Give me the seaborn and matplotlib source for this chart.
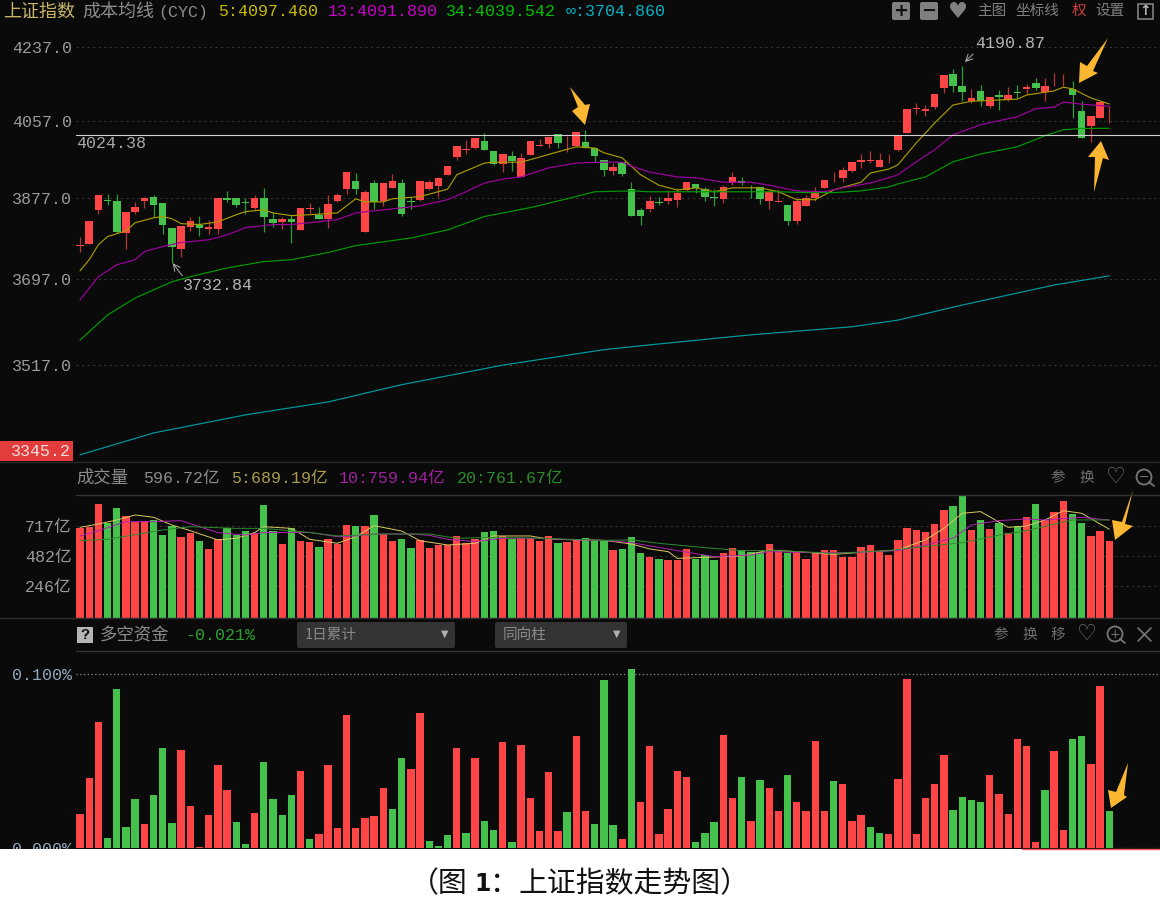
import matplotlib
matplotlib.use("Agg")
import matplotlib.pyplot as plt
from matplotlib.patches import Polygon, Rectangle, FancyBboxPatch, Circle
from matplotlib.ticker import NullLocator, FixedLocator, FixedFormatter
import numpy as np
import pandas as pd
import seaborn as sns

# ---------------- data ----------------
opens = [3771,3775,3851,3873,3871,3798,3846,3871,3879,3867,3810,3764,3813,3817,3808,3808,3878,3878,3869,3856,
         3878,3831,3824,3831,3806,3854,3840,3831,3871,3899,3917,3802,3911,3870,3901,3913,3870,3873,3898,3905,
         3931,3971,3988,3993,4010,3987,3956,3974,3925,3977,3997,4003,4026,3999,3997,4008,3992,3965,3940,3961,
         3898,3850,3852,3869,3870,3873,3896,3909,3898,3881,3875,3911,3917,3904,3904,3872,3868,3862,3825,3859,
         3878,3901,3918,3923,3940,3960,3963,3948,3967,3989,4028,4086,4081,4090,4135,4171,4141,4105,4129,4092,
         4118,4106,4127,4134,4147,4127,4153,4160,4134,4081,4045,4065,4078]
highs = [3790,3827,3884,3888,3887,3845,3868,3881,3885,3867,3810,3814,3835,3836,3828,3878,3894,3878,3878,3884,
         3901,3845,3834,3840,3855,3866,3857,3884,3889,3937,3934,3896,3920,3913,3932,3922,3879,3917,3919,3925,
         3951,3998,4012,4017,4028,3987,3978,3987,3981,4010,4014,4020,4026,4021,4031,4036,3992,3965,3959,3961,
         3914,3855,3883,3881,3896,3901,3914,3909,3904,3898,3907,3937,3925,3907,3904,3896,3898,3862,3881,3885,
         3904,3918,3938,3948,3960,3980,3986,3981,3978,4024,4085,4099,4095,4122,4167,4182,4190.87,4133,4143,4115,
         4131,4138,4143,4145,4161,4160,4172,4171,4154,4105,4068,4105,4092]
lows = [3758,3775,3842,3861,3799,3763,3841,3856,3835,3797,3732.84,3746,3804,3793,3796,3796,3869,3857,3842,3851,
        3802,3813,3808,3777,3806,3844,3831,3811,3868,3888,3888,3802,3853,3859,3901,3836,3853,3870,3896,3879,
        3931,3964,3980,3991,3989,3953,3938,3940,3925,3977,3997,3993,3993,3983,3997,3994,3961,3927,3931,3929,
        3836,3818,3847,3862,3865,3857,3893,3890,3871,3860,3866,3907,3907,3878,3865,3853,3868,3818,3819,3859,
        3872,3901,3914,3914,3938,3947,3959,3948,3957,3985,4028,4073,4069,4085,4123,4127,4104,4100,4092,4089,
        4083,4104,4111,4121,4132,4104,4141,4140,4065,4017,4006,4065,4051]
closes = [3773,3827,3884,3871,3802,3845,3858,3878,3861,3816,3768,3814,3827,3810,3812,3878,3873,3863,3866,3877,
          3834,3822,3830,3824,3855,3856,3831,3864,3884,3937,3898,3891,3869,3913,3917,3842,3869,3917,3915,3924,
          3951,3998,3991,4017,3989,3956,3978,3963,3970,4010,3999,4020,4005,4001,4031,3994,3974,3942,3948,3933,
          3836,3838,3871,3867,3878,3890,3914,3900,3879,3878,3904,3925,3911,3902,3876,3892,3870,3827,3872,3877,
          3891,3918,3920,3943,3960,3965,3965,3965,3968,4024,4085,4088,4085,4122,4167,4140,4127,4113,4104,4115,
          4115,4118,4124,4138,4135,4142,4154,4161,4120,4017,4068,4102,4079]

ma5_i = [0,1,2,3,5,6,8,9,10,11,13,15,17,18,20,21,23,25,28,29,30,31,33,34,37,40,41,44,45,48,50,52,54,56,57,59,61,63,65,67,69,71,74,76,78,80,82,85,86,88,89,91,93,95,97,102,103,106,107,108,110,112]
ma5_v = [3716,3740,3773,3791,3804,3822,3833,3836,3831,3820,3818,3824,3840,3847,3851,3844,3838,3840,3844,3860,3876,3869,3869,3876,3881,3898,3931,3958,3960,3960,3972,3984,3996,3993,3982,3970,3931,3907,3896,3901,3892,3901,3901,3892,3874,3874,3896,3914,3935,3944,3954,4005,4052,4095,4104,4109,4119,4129,4138,4134,4112,4097.46]
ma13_i = [0,2,4,6,7,9,11,14,16,18,21,23,25,28,30,33,37,40,42,44,46,48,51,54,57,59,60,62,65,67,70,73,75,78,81,83,86,88,89,91,93,95,98,102,104,106,107,109,112]
ma13_v = [3653,3703,3729,3740,3758,3769,3778,3784,3795,3811,3818,3818,3822,3829,3844,3851,3860,3874,3892,3912,3921,3926,3947,3958,3960,3960,3951,3937,3926,3924,3914,3914,3907,3894,3892,3901,3912,3924,3931,3961,3989,4024,4048,4067,4086,4090,4102,4097,4091.89]
ma34_i = [0,3,6,10,12,16,20,23,27,30,36,40,44,49,53,56,60,62,71,76,79,82,85,88,89,92,95,98,102,105,107,109,112]
ma34_v = [3568,3621,3657,3692,3703,3722,3736,3740,3756,3771,3788,3806,3836,3856,3876,3892,3894,3892,3892,3892,3890,3890,3894,3903,3910,3926,3961,3979,3996,4022,4036,4039,4039.54]
mainf_i = [0,8,18,27,35,46,57,62,73,84,89,96,106,112]
mainf_v = [3336,3379,3415,3441,3476,3516,3548,3558,3579,3596,3610,3642,3685,3704.86]

volume = [696,704,888,735,857,792,743,751,758,647,712,629,657,600,536,616,701,647,675,663,
          875,678,572,696,600,590,554,611,572,722,717,712,800,652,595,616,546,603,541,569,
          569,634,580,611,670,675,639,613,619,624,595,634,585,590,606,621,598,603,531,536,
          626,507,476,458,448,453,536,455,487,448,502,546,528,515,515,577,523,507,510,461,
          512,525,525,476,471,551,564,523,489,603,699,683,665,730,841,870,952,683,763,688,
          735,663,712,782,888,761,823,906,805,735,634,678,596.72]
volume_dir = list("RRRGGRRRGG" "GRRGRRGGGR" "GGRGRRGRRR" "GRGRRGGRRR" "RRRRGGRGRR" "RRGRRGGGRG"
                  "GGRGRRRGGG" "RRGGGRRGRR" "RRRRRRRRRR" "RRRRRGGRGR" "GRGRGRRRGG" "RRR")
vma5_i = [0,2,4,6,8,10,12,15,17,19,20,23,25,28,30,32,35,37,40,43,45,49,51,54,57,60,62,64,65,68,72,75,78,82,86,89,92,94,96,98,101,103,105,107,109,112]
vma5_v = [704,730,761,800,782,722,678,606,619,663,709,696,611,580,631,717,675,600,567,580,637,637,613,606,603,575,536,515,463,471,481,528,515,494,515,528,606,696,813,826,704,714,761,833,813,689.19]
vma10_i = [0,2,5,8,11,13,15,18,20,25,28,30,32,36,38,40,43,46,50,54,57,60,65,69,73,75,80,84,89,92,95,97,100,103,105,109,112]
vma10_v = [637,678,748,748,756,709,663,644,663,665,631,637,652,652,642,611,593,619,619,606,603,585,523,476,489,515,507,507,523,567,619,722,756,769,761,782,759.94]
vma20_i = [0,3,6,9,12,17,20,25,28,33,38,41,45,50,57,60,63,68,72,76,82,88,90,96,100,103,108,112]
vma20_v = [600,611,647,683,709,696,696,663,637,652,652,619,626,619,603,606,580,546,523,523,502,523,541,585,644,678,761,761.67]

funds = [.0194,.0401,.0727,.0058,.0916,.0119,.0280,.0136,.0305,.0572,.0146,.0562,.0244,.0008,.0188,.0476,.0332,.0150,.0023,.0202,
         .0497,.0284,.0192,.0305,.0442,.0054,.0081,.0476,.0113,.0762,.0113,.0171,.0184,.0346,.0227,.0520,.0453,.0776,.0038,.0013,
         .0075,.0572,.0088,.0515,.0157,.0102,.0607,.0035,.0593,.0290,.0098,.0436,.0098,.0205,.0641,.0215,.0136,.0968,.0132,.0050,
         .1029,.0263,.0589,.0081,.0223,.0442,.0407,.0036,.0084,.0150,.0651,.0290,.0407,.0154,.0390,.0346,.0215,.0420,.0267,.0211,
         .0614,.0211,.0384,.0370,.0154,.0188,.0119,.0088,.0081,.0394,.0972,.0081,.0290,.0367,.0532,.0219,.0292,.0276,.0267,.0420,
         .0311,.0198,.0624,.0589,.0033,.0336,.0555,.0106,.0628,.0641,.0480,.0929,.0211]
funds_dir = list("RRRGGGGRGG" "GRRRRRRGGR" "GGGGRGRRRR" "RRRRGGRRGG" "GRGRGGRGRR" "RRRGRRGGGR"
                 "GRRRRRRGGG" "RRGRGRRGRR" "RRGRRRGGRR" "RRRRRGGGGR" "RRRRRGRRGG" "RRG")

price_ticks = [4237.0, 4057.0, 3877.0, 3697.0, 3517.0]
price_labels = ["4237.0", "4057.0", "3877.0", "3697.0", "3517.0"]
vol_ticks = [717, 482, 246]
vol_labels = ["717亿", "482亿", "246亿"]
fund_ticks = [0.1, 0.0]
fund_labels = ["0.100%", "0.000%"]
last_close_line = 4024.38

# ---------------- style ----------------
sns.set_theme(style="dark")
BG = "#0a0a0a"
RED = "#ff4545"
GREEN = "#45c24b"
FONT = ["Liberation Mono", "Noto Sans CJK SC", "DejaVu Sans"]
CJK = ["Noto Sans CJK SC", "DejaVu Sans"]
plt.rcParams["font.family"] = FONT
plt.rcParams["axes.unicode_minus"] = False

W, H = 1160, 905
fig = plt.figure(figsize=(W / 100, H / 100), dpi=100, facecolor=BG)

def panel(top, bottom, left=76, right=1160):
    ax = fig.add_axes([left / W, 1 - bottom / H, (right - left) / W, (bottom - top) / H])
    ax.set_facecolor(BG)
    for s in ax.spines.values():
        s.set_visible(False)
    return ax

XLIM = ((76 - 80) / 9.19, (1160 - 80) / 9.19)
idx = np.arange(len(closes))

# ---------------- price panel ----------------
ax1 = panel(28, 462)
ax1.set_yscale("log")
o, h, l, c = map(np.array, (opens, highs, lows, closes))
up = c >= o
ax1.vlines(idx[up], l[up], h[up], color="#b53638", lw=0.9, zorder=2)
ax1.vlines(idx[~up], l[~up], h[~up], color="#2f9a38", lw=0.9, zorder=2)
body_lo = np.minimum(o, c)
body_hi = np.maximum(o, c)
ax1.bar(idx[up], body_hi[up] - body_lo[up], bottom=body_lo[up], width=0.82, color=RED, lw=0, zorder=3)
ax1.bar(idx[~up], body_hi[~up] - body_lo[~up], bottom=body_lo[~up], width=0.82, color=GREEN, lw=0, zorder=3)
for xs, ys, col in [(ma5_i, ma5_v, "#a89a00"), (ma13_i, ma13_v, "#a000a0"),
                    (ma34_i, ma34_v, "#009c00"), (mainf_i, mainf_v, "#009aa2")]:
    sns.lineplot(x=xs, y=ys, ax=ax1, color=col, lw=0.85, errorbar=None, zorder=4)
ax1.axhline(last_close_line, color="#d0d0d0", lw=0.8, zorder=5)
ax1.set_xlim(*XLIM)
ax1.set_ylim(3322, 4284)
ax1.yaxis.set_major_locator(FixedLocator(price_ticks))
ax1.yaxis.set_major_formatter(FixedFormatter(price_labels))
ax1.yaxis.set_minor_locator(NullLocator())
ax1.set_xticks([])
ax1.grid(axis="y", color="#333333", ls=(0, (2, 3)), lw=0.8)
ax1.grid(axis="x", visible=False)
ax1.set_axisbelow(True)
ax1.tick_params(axis="y", length=0, pad=3, labelsize=12, labelcolor="#9a9a9a")

# ---------------- volume panel ----------------
ax2 = panel(495, 618)
vdf = pd.DataFrame({"i": idx, "v": volume, "d": volume_dir})
sns.barplot(data=vdf, x="i", y="v", hue="d", palette={"R": RED, "G": GREEN}, dodge=False, saturation=1,
            native_scale=True, width=0.8, errorbar=None, legend=False, ax=ax2, lw=0, zorder=2)
for xs, ys, col in [(vma5_i, vma5_v, "#d8c860"), (vma10_i, vma10_v, "#b020b0"), (vma20_i, vma20_v, "#2e8a2e")]:
    sns.lineplot(x=xs, y=ys, ax=ax2, color=col, lw=0.7, errorbar=None, zorder=4)
ax2.set_xlim(*XLIM)
ax2.set_ylim(0, 955)
ax2.set_xticks([])
ax2.set_xlabel("")
ax2.set_ylabel("")
ax2.set_yticks(vol_ticks)
ax2.set_yticklabels(vol_labels)
ax2.grid(axis="y", color="#333333", ls=(0, (2, 3)), lw=0.8)
ax2.grid(axis="x", visible=False)
ax2.set_axisbelow(True)
ax2.tick_params(axis="y", length=0, pad=3, labelsize=12, labelcolor="#9a9a9a")

# ---------------- fund panel ----------------
ax3 = panel(652, 848)
fdf = pd.DataFrame({"i": idx, "v": funds, "d": funds_dir})
sns.barplot(data=fdf, x="i", y="v", hue="d", palette={"R": RED, "G": GREEN}, dodge=False, saturation=1,
            native_scale=True, width=0.8, errorbar=None, legend=False, ax=ax3, lw=0, zorder=2)
ax3.set_xlim(*XLIM)
ax3.set_ylim(0, 196 / 174 * 0.1)
ax3.set_xticks([])
ax3.set_xlabel("")
ax3.set_ylabel("")
ax3.set_yticks(fund_ticks)
ax3.set_yticklabels(fund_labels)
ax3.grid(axis="y", color="#8a8a8a", ls=(0, (1, 2)), lw=0.9)
ax3.grid(axis="x", visible=False)
ax3.set_axisbelow(True)
ax3.tick_params(axis="y", length=0, pad=3, labelsize=12, labelcolor="#93a8bd")

# ---------------- overlay (text and furniture, in picture pixels) ----------------
ov = fig.add_axes([0, 0, 1, 1], zorder=10)
ov.set_xlim(0, W)
ov.set_ylim(H, 0)
ov.axis("off")
ov.patch.set_alpha(0)

def T(x, y, s, color="#9a9a9a", size=12, ha="left", family=FONT, **kw):
    ov.text(x, y, s, color=color, fontsize=size, ha=ha, va="center", family=family, **kw)

# separators
for y, x0, col in [(462, 0, "#2a2a2a"), (495, 76, "#333333"), (618, 0, "#2e2e2e"), (651, 76, "#333333")]:
    ov.plot([x0, W], [y, y], color=col, lw=1)

# header of the price panel
T(3, 12, "上证指数", "#c8b468", 13, family=CJK)
T(82, 12, "成本均线", "#8c8c8c", 13, family=CJK)
T(158, 12, "(CYC)", "#8c8c8c", 12)
T(218, 12, "5:4097.460", "#c8bb00", 12)
T(328, 12, "13:4091.890", "#c800c8", 12)
T(446, 12, "34:4039.542", "#00c000", 12)
T(566, 12, "∞:3704.860", "#00b4c4", 12)

# toolbar icons
for x, glyph in [(901, "+"), (929, "−")]:
    ov.add_patch(FancyBboxPatch((x - 7, 4), 14, 14, boxstyle="round,pad=2", fc="#808080", ec="none"))
    T(x, 10.5, glyph, "#111111", 13, ha="center", family=["DejaVu Sans"], fontweight="bold")
T(958, 11.5, "♥", "#808080", 16, ha="center", family=["DejaVu Sans"])
T(992, 11, "主图", "#808080", 10.5, ha="center", family=CJK)
T(1037, 11, "坐标线", "#808080", 10.5, ha="center", family=CJK)
T(1079, 11, "权", "#d04040", 10.5, ha="center", family=CJK)
T(1110, 11, "设置", "#808080", 10.5, ha="center", family=CJK)
ov.add_patch(Rectangle((1138, 4), 15, 15, fc="none", ec="#808080", lw=1.2))
T(1145.5, 11, "↑", "#b8b8b8", 10, ha="center", family=["DejaVu Sans"], fontweight="bold")

# price annotations
T(76, 144, "4024.38", "#a8a8a8", 12)
T(975, 43, "4190.87", "#b4b4b4", 12)
T(183, 285, "3732.84", "#b4b4b4", 12)
ov.annotate("", xy=(963, 64), xytext=(975, 52), arrowprops=dict(arrowstyle="->", color="#b0b0b0", lw=0.7))
ov.annotate("", xy=(171, 261), xytext=(184, 278), arrowprops=dict(arrowstyle="->", color="#b0b0b0", lw=0.7))
ov.add_patch(Rectangle((0, 441), 73, 20, fc="#e23c3c", ec="none"))
T(71, 451, "3345.2", "#f0e0e0", 12, ha="right")

# volume header
T(76, 478, "成交量", "#8c8c8c", 12.5, family=CJK)
T(143, 478, "596.72亿", "#8c8c8c", 12)
T(231, 478, "5:689.19亿", "#a89c50", 12)
T(339, 478, "10:759.94亿", "#a020a0", 12)
T(457, 478, "20:761.67亿", "#2f8a2f", 12)

def magnifier(x, y, sign):
    ov.add_patch(Circle((x, y), 7.5, fc="none", ec="#777777", lw=1.3))
    ov.plot([x + 5, x + 10], [y + 5, y + 9], color="#777777", lw=1.3)
    T(x, y, sign, "#777777", 9, ha="center", family=["DejaVu Sans"])

for x, s in [(1058, "参"), (1087, "换")]:
    T(x, 478, s, "#6f6f6f", 10.5, ha="center", family=CJK)
T(1116, 477, "♡", "#777777", 16, ha="center", family=["DejaVu Sans"])
magnifier(1144, 477, "−")

# fund header
ov.add_patch(Rectangle((77, 627), 16, 16, fc="#b5b5b5", ec="none"))
T(85, 635, "?", "#111111", 11, ha="center", fontweight="bold")
T(100, 635, "多空资金", "#8c8c8c", 12.5, family=CJK)
T(185, 635, "-0.021%", "#2fa030", 12)
for x0, x1, s, xarrow in [(297, 455, "1日累计", 445), (495, 627, "同向柱", 617)]:
    ov.add_patch(FancyBboxPatch((x0 + 2, 624), x1 - x0 - 4, 22, boxstyle="round,pad=2", fc="#333333", ec="none"))
    T(x0 + 8, 635, s, "#8a8a8a", 10.5, family=CJK)
    T(xarrow, 634, "▼", "#b0b0b0", 7, ha="center", family=["DejaVu Sans"])
for x, s in [(1001, "参"), (1030, "换"), (1058, "移")]:
    T(x, 635, s, "#6f6f6f", 10.5, ha="center", family=CJK)
T(1087, 634, "♡", "#777777", 16, ha="center", family=["DejaVu Sans"])
magnifier(1115, 634, "+")
ov.plot([1138, 1151], [628, 641], color="#777777", lw=1.2)
ov.plot([1138, 1151], [641, 628], color="#777777", lw=1.2)

# orange call-out arrows
AMBER = "#fbb731"
for pts in [
    [(570, 87), (578, 107), (572, 111), (585, 125), (590, 104), (585, 105)],
    [(1108, 38), (1087, 66), (1080, 62), (1079, 83), (1098, 73), (1093, 71)],
    [(1094, 192), (1095, 157), (1088, 157), (1101, 141), (1109, 160), (1103, 158)],
    [(1133, 490), (1122, 522), (1112, 520), (1115, 540), (1133, 526), (1125, 524)],
    [(1128, 763), (1116, 792), (1108, 790), (1111, 808), (1127, 797), (1124, 795)],
]:
    ov.add_patch(Polygon(pts, closed=True, fc=AMBER, ec="none"))

# white caption band
ov.add_patch(Rectangle((0, 849), W, H - 849, fc="white", ec="none", zorder=5))
ov.plot([1022, W], [849, 849], color="#ff5a5a", lw=1, zorder=6)
for x, s in [(410, "（图"), (490, "："), (518, "上证指数走势图）")]:
    T(x, 884, s, "#111111", 20.8, family=CJK, zorder=7, fontweight="light")
T(474, 884, "1", "#111111", 17, family=["DejaVu Sans"], zorder=7, fontweight="bold")

fig.savefig("out.png", dpi=100, facecolor=BG)
